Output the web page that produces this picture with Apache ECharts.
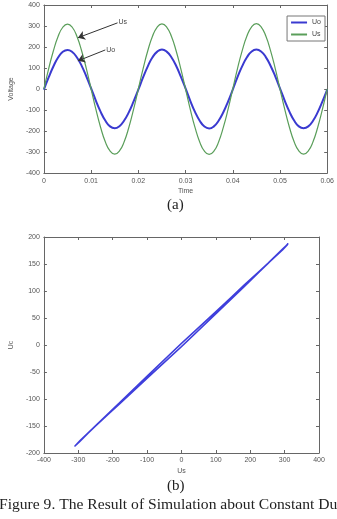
<!DOCTYPE html>
<html>
<head>
<meta charset="utf-8">
<script src="https://cdn.jsdelivr.net/npm/echarts@6/dist/echarts.min.js"></script>
<style>
  html, body { margin: 0; padding: 0; background: #fff; overflow: hidden; }
  #main { width: 337px; height: 519px; }
</style>
</head>
<body>
<div id="main"></div>
<script>
// sample times (s)
var timeData = [0, 0.001, 0.002, 0.003, 0.004, 0.005, 0.006, 0.007, 0.008, 0.009,
  0.010, 0.011, 0.012, 0.013, 0.014, 0.015, 0.016, 0.017, 0.018, 0.019,
  0.020, 0.021, 0.022, 0.023, 0.024, 0.025, 0.026, 0.027, 0.028, 0.029,
  0.030, 0.031, 0.032, 0.033, 0.034, 0.035, 0.036, 0.037, 0.038, 0.039,
  0.040, 0.041, 0.042, 0.043, 0.044, 0.045, 0.046, 0.047, 0.048, 0.049,
  0.050, 0.051, 0.052, 0.053, 0.054, 0.055, 0.056, 0.057, 0.058, 0.059, 0.060];
// source voltage Us
var usData = [0, 96, 181, 250, 294, 309, 294, 250, 181, 96,
  0, -96, -182, -251, -295, -310, -295, -251, -182, -96,
  0, 96, 182, 251, 295, 310, 295, 251, 182, 96,
  0, -97, -183, -252, -296, -311, -296, -252, -183, -97,
  0, 97, 183, 252, 296, 311, 296, 252, 183, 97,
  0, -96, -182, -251, -295, -310, -295, -251, -182, -96, 0];
// output voltage Uo (= Uc)
var uoData = [-3, 55, 107, 150, 177, 186, 176, 150, 110, 59,
  3, -55, -108, -150, -178, -187, -177, -150, -110, -59,
  -3, 55, 108, 151, 178, 188, 178, 151, 111, 59,
  3, -56, -109, -151, -179, -188, -178, -151, -111, -60,
  -3, 56, 109, 151, 179, 188, 179, 152, 111, 60,
  3, -55, -108, -150, -178, -187, -178, -151, -110, -59, -3];
var voltTicks = [-400, -300, -200, -100, 0, 100, 200, 300, 400];
var timeTicks = [0, 0.01, 0.02, 0.03, 0.04, 0.05, 0.06];
var usTicks = [-400, -300, -200, -100, 0, 100, 200, 300, 400];
var ucTicks = [-200, -150, -100, -50, 0, 50, 100, 150, 200];

var chart = echarts.init(document.getElementById('main'));

var lblFont = { fontSize: 7, color: '#555', fontFamily: 'Liberation Sans' };
function axisBase(extra) {
  var a = {
    type: 'value',
    axisLine: { show: true, onZero: false, lineStyle: { color: '#666', width: 1 } },
    axisTick: { show: true, inside: true, length: 3, lineStyle: { color: '#666' } },
    splitLine: { show: false },
    axisLabel: Object.assign({ margin: 4 }, lblFont),
    nameTextStyle: lblFont
  };
  return Object.assign(a, extra);
}
function mirror(base) {
  var a = Object.assign({}, base);
  a.axisLabel = { show: false };
  a.name = '';
  return a;
}

var pairs = usData.map(function (u, i) { return [u, uoData[i]]; });

var xTime = axisBase({ gridIndex: 0, min: timeTicks[0], max: timeTicks[timeTicks.length - 1],
  interval: 0.01, name: 'Time', nameLocation: 'middle', nameGap: 15,
  axisLabel: Object.assign({ margin: 5, formatter: function (v) { return String(+v.toFixed(2)); } }, lblFont) });
var yVolt = axisBase({ gridIndex: 0, min: voltTicks[0], max: voltTicks[voltTicks.length - 1],
  interval: 100, name: 'Voltage', nameLocation: 'middle', nameGap: 20 });
var xUs = axisBase({ gridIndex: 1, min: usTicks[0], max: usTicks[usTicks.length - 1],
  interval: 100, name: 'Us', nameLocation: 'middle', nameGap: 15 });
var yUc = axisBase({ gridIndex: 1, min: ucTicks[0], max: ucTicks[ucTicks.length - 1],
  interval: 50, name: 'Uc', nameLocation: 'middle', nameGap: 23 });

var xTop = mirror(xTime); xTop.position = 'top';
var yRight = mirror(yVolt); yRight.position = 'right';
var xTop2 = mirror(xUs); xTop2.position = 'top';
var yRight2 = mirror(yUc); yRight2.position = 'right';

var serif = { fontFamily: 'Liberation Serif', fontWeight: 'normal', color: '#222' };

chart.setOption({
  animation: false,
  backgroundColor: '#fff',
  title: [
    { text: '(a)', left: 167, top: 198, padding: 0, textStyle: Object.assign({ fontSize: 15 }, serif) },
    { text: '(b)', left: 167, top: 479, padding: 0, textStyle: Object.assign({ fontSize: 15 }, serif) },
    { text: 'Figure 9. The Result of Simulation about Constant Duty', left: -1, top: 497, padding: 0,
      textStyle: Object.assign({ fontSize: 15.6 }, serif) }
  ],
  legend: {
    data: [{ name: 'Uo', icon: 'rect' }, { name: 'Us', icon: 'rect' }],
    orient: 'vertical',
    right: 12, top: 16,
    itemWidth: 16, itemHeight: 2, itemGap: 5,
    padding: [3, 4, 3, 4],
    borderColor: '#777', borderWidth: 1,
    backgroundColor: '#fff',
    textStyle: { fontSize: 7, color: '#444', fontFamily: 'Liberation Sans' }
  },
  grid: [
    { left: 32, right: 5, top: 5, bottom: 346 },
    { left: 43, right: 18, top: 237, bottom: 66 }
  ],
  xAxis: [xTime, xTop, xUs, xTop2],
  yAxis: [yVolt, yRight, yUc, yRight2],
  series: [
    {
      name: 'Uo', type: 'line', xAxisIndex: 0, yAxisIndex: 0,
      data: timeData.map(function (t, i) { return [t, uoData[i]]; }),
      smooth: true, symbol: 'none', showSymbol: false,
      lineStyle: { color: '#3a3ad0', width: 2 }, itemStyle: { color: '#3a3ad0' },
      markLine: {
        silent: true, symbol: ['none', 'arrow'], symbolSize: 7,
        lineStyle: { color: '#333', width: 1, type: 'solid' },
        label: { position: 'start', formatter: 'Uo', fontSize: 7, color: '#444', distance: 1 },
        data: [[{ coord: [0.013, 186] }, { coord: [0.0072, 134] }]]
      }
    },
    {
      name: 'Us', type: 'line', xAxisIndex: 0, yAxisIndex: 0,
      data: timeData.map(function (t, i) { return [t, usData[i]]; }),
      smooth: true, symbol: 'none', showSymbol: false,
      lineStyle: { color: '#5a9e5a', width: 1.2 }, itemStyle: { color: '#5a9e5a' },
      markLine: {
        silent: true, symbol: ['none', 'arrow'], symbolSize: 7,
        lineStyle: { color: '#333', width: 1, type: 'solid' },
        label: { position: 'start', formatter: 'Us', fontSize: 7, color: '#444', distance: 1 },
        data: [[{ coord: [0.0156, 315] }, { coord: [0.0072, 244] }]]
      }
    },
    {
      name: 'Uc-Us', type: 'line', xAxisIndex: 2, yAxisIndex: 2,
      data: pairs,
      smooth: false, symbol: 'none', showSymbol: false,
      lineStyle: { color: '#3f3fdc', width: 1.4 }
    }
  ]
});
</script>
</body>
</html>
